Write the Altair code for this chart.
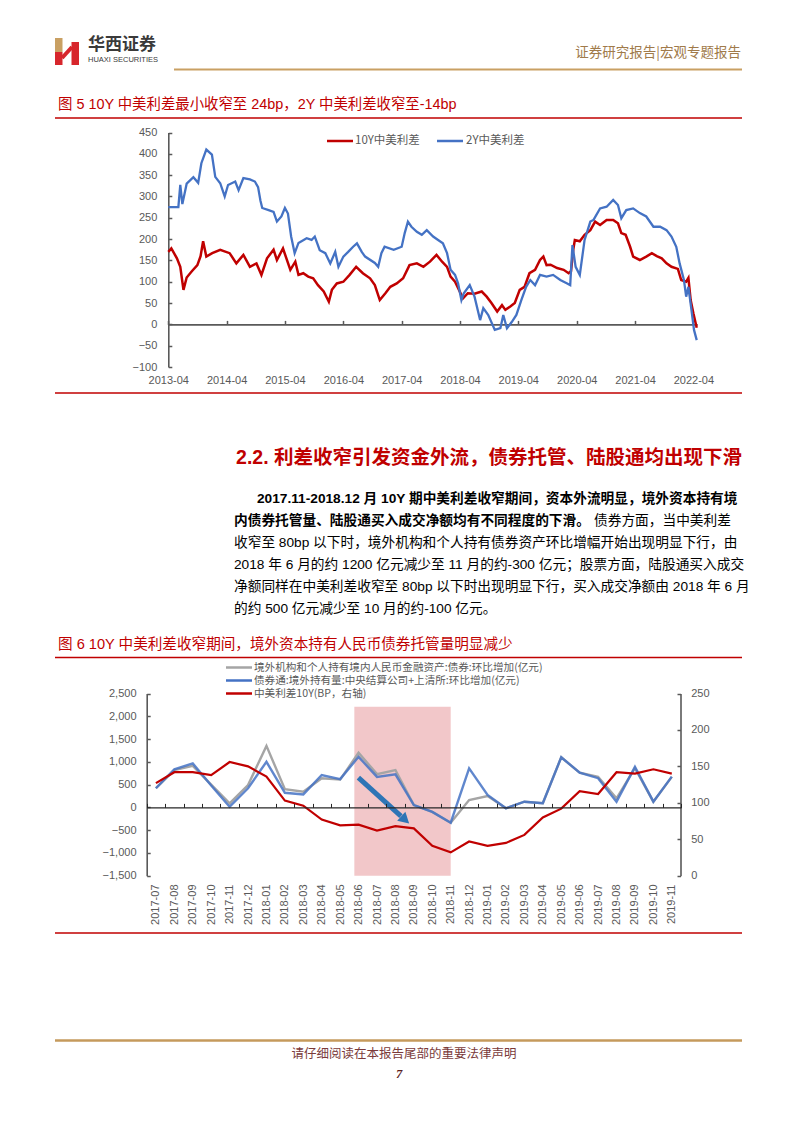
import json
import altair as alt
import pandas as pd

# ---------------- Figure 5: China-US spread (bp) ----------------
y10_dates = ["2013-04-01","2013-04-20","2013-05-25","2013-06-15","2013-07-05","2013-07-25","2013-08-25","2013-09-30","2013-10-20","2013-11-05",
             "2013-11-25","2014-01-01","2014-02-20","2014-04-20","2014-06-01","2014-07-15","2014-08-25","2014-10-05","2014-11-05","2014-12-10",
             "2015-01-20","2015-02-10","2015-03-20","2015-05-05","2015-06-05","2015-06-25","2015-07-25","2015-08-25","2015-09-25","2015-10-25",
             "2015-11-30","2016-01-01","2016-01-20","2016-02-20","2016-04-01","2016-05-10","2016-06-20","2016-08-01","2016-09-15","2016-10-15",
             "2016-11-15","2016-12-20","2017-01-20","2017-03-01","2017-04-10","2017-05-20","2017-07-05","2017-08-15","2017-09-25","2017-11-05",
             "2017-12-10","2018-01-10","2018-02-01","2018-03-01","2018-04-20","2018-05-20","2018-07-01","2018-08-15","2018-09-15","2018-10-15",
             "2018-11-20","2018-12-20","2019-01-10","2019-02-10","2019-03-10","2019-04-10","2019-05-10","2019-06-10","2019-07-15","2019-08-15",
             "2019-09-05","2019-09-25","2019-10-20","2019-11-30","2020-01-10","2020-02-10","2020-02-25","2020-03-10","2020-03-20","2020-04-20",
             "2020-05-20","2020-06-25","2020-07-25","2020-08-25","2020-10-05","2020-11-15","2020-12-15","2021-01-05","2021-02-01","2021-03-01",
             "2021-03-20","2021-05-01","2021-06-10","2021-07-15","2021-08-15","2021-09-15","2021-10-15","2021-11-15","2021-12-25","2022-01-15",
             "2022-02-15","2022-03-01","2022-03-15","2022-04-01","2022-04-22"]
y10_vals = [170,178,155,135,81,110,124,139,160,195,
            159,167,175,167,143,163,135,143,116,155,
            175,151,178,128,147,116,120,112,108,92,
            77,53,81,96,100,116,135,120,108,92,
            57,73,88,96,108,139,143,135,147,163,
            147,135,112,100,61,73,72,77,65,50,
            30,45,34,42,50,81,88,120,128,151,
            159,139,140,132,128,120,125,175,198,195,
            210,221,241,233,245,245,237,214,210,182,
            159,151,159,167,160,155,143,135,130,104,
            100,109,57,26,-8]

y2_dates = ["2013-04-01","2013-06-03","2013-06-15","2013-06-28","2013-07-25","2013-09-05","2013-10-05","2013-10-25","2013-11-25","2013-12-30",
            "2014-01-20","2014-02-20","2014-03-20","2014-04-10","2014-05-25","2014-06-15","2014-07-15","2014-08-25","2014-09-25","2014-10-15",
            "2014-10-30","2014-11-10","2014-12-20","2015-01-20","2015-02-10","2015-03-10","2015-04-01","2015-04-20","2015-05-10","2015-06-01",
            "2015-06-25","2015-08-15","2015-09-15","2015-10-05","2015-11-05","2015-12-10","2016-01-10","2016-02-10","2016-03-01","2016-04-01",
            "2016-05-01","2016-06-01","2016-06-25","2016-07-25","2016-08-15","2016-10-15","2016-11-05","2016-11-25","2016-12-15","2017-02-10",
            "2017-04-01","2017-04-20","2017-05-10","2017-06-01","2017-07-05","2017-08-05","2017-09-05","2017-10-15","2017-11-15","2017-12-15",
            "2018-01-10","2018-02-01","2018-03-01","2018-03-20","2018-04-10","2018-04-25","2018-06-01","2018-07-01","2018-08-05","2018-08-25",
            "2018-09-25","2018-11-05","2018-12-10","2018-12-28","2019-01-20","2019-02-20","2019-03-20","2019-04-20","2019-05-20","2019-06-15",
            "2019-07-15","2019-08-15","2019-09-25","2019-11-05","2019-12-20","2020-02-01","2020-02-20","2020-03-05","2020-03-25","2020-04-20",
            "2020-05-20","2020-06-25","2020-07-15","2020-08-25","2020-10-05","2020-11-15","2020-12-15","2021-01-05","2021-02-05","2021-03-20",
            "2021-05-01","2021-06-10","2021-07-25","2021-09-05","2021-10-15","2021-11-15","2021-12-15","2022-01-05","2022-02-01","2022-02-15",
            "2022-03-01","2022-03-20","2022-04-05","2022-04-22"]
y2_vals = [275,275,327,282,330,345,332,378,410,398,
           346,331,300,327,335,315,343,340,335,322,
           290,273,268,264,241,253,273,260,206,167,
           191,202,198,206,174,167,143,170,135,159,
           170,182,190,170,159,144,135,167,182,175,
           182,214,241,229,217,210,221,206,198,190,
           167,128,116,96,57,73,92,65,10,38,
           22,-13,-9,22,-9,6,22,57,88,104,
           92,116,112,116,104,96,92,186,135,116,
           198,241,245,272,276,292,280,249,268,272,
           261,253,229,229,221,206,182,143,104,65,
           88,34,-13,-37]
f5_ticks = list(range(2013, 2023))

# ---------------- Figure 6 ----------------
months = ["2017-07","2017-08","2017-09","2017-10","2017-11","2017-12","2018-01","2018-02","2018-03","2018-04",
          "2018-05","2018-06","2018-07","2018-08","2018-09","2018-10","2018-11","2018-12","2019-01","2019-02",
          "2019-03","2019-04","2019-05","2019-06","2019-07","2019-08","2019-09","2019-10","2019-11"]
foreign_bonds = [420, 820, 910, 500, 90, 490, 1350, 400, 345, 640,
                 610, 1200, 730, 820, 50, -100, -336, 160, 250, -20,
                 125, 90, 1100, 760, 670, 200, 860, 125, 670]
bond_connect = [420, 835, 965, 480, 15, 420, 1000, 320, 285, 710,
                620, 1110, 670, 725, 50, -100, -336, 855, 275, -20,
                125, 90, 1100, 760, 640, 125, 890, 125, 675]
spread10y = [127, 142, 142, 138, 156, 150, 136, 103, 96, 77,
             69, 70, 62, 68, 65, 41, 32, 47, 41, 45,
             56, 80, 92, 116, 112, 142, 140, 146, 140]
shade_span = [10.77, 16.0]       # category-index span of the shaded period
shade_vals = [-1500, 2210]
arrow_idx = [10.99, 13.3]
arrow_vals = [652, -190]
arrow_head_idx = [13.46]
arrow_head_vals = [-248]

# ---------------- styling ----------------
RED = "#C00000"
BLUE = "#4472C4"
GRAY = "#A5A5A5"
AX = "#595959"
GOLD = "#C9A063"
CJK = "Noto Sans CJK SC"
MIX = "Liberation Sans, Noto Sans CJK SC"

blank = pd.DataFrame({"k": [0]})


def txt(s, x, y, size, color, weight="normal", align="left", font=MIX, style="normal"):
    return alt.Chart(blank).mark_text(
        text=s, fontSize=size, color=color, fontWeight=weight, align=align,
        baseline="middle", font=font, fontStyle=style
    ).encode(x=alt.value(x), y=alt.value(y))


def hline(x1, x2, y, color, width):
    return alt.Chart(blank).mark_rule(color=color, strokeWidth=width).encode(
        x=alt.value(x1), x2=alt.value(x2), y=alt.value(y))


def seg(x1, y1, x2, y2, color, width):
    return alt.Chart(blank).mark_rule(color=color, strokeWidth=width).encode(
        x=alt.value(x1), x2=alt.value(x2), y=alt.value(y1), y2=alt.value(y2))


def box(x1, x2, y1, y2, color):
    return alt.Chart(blank).mark_rect(color=color).encode(
        x=alt.value(x1), x2=alt.value(x2), y=alt.value(y1), y2=alt.value(y2))


layers = []

# ---------- page header ----------
layers += [
    box(55, 62.5, 38, 52, GOLD),
    box(55, 62.5, 52, 65, "#D7262C"),
    box(71.5, 79, 42, 65, "#D7262C"),
    seg(62, 58, 72, 47, "#D7262C", 4),
    txt("华西证券", 88, 45, 17, "#3A3A3A", weight="bold", font=CJK),
    txt("HUAXI SECURITIES", 88, 60, 7.5, "#3A3A3A", font="Liberation Sans"),
    txt("证券研究报告|宏观专题报告", 741, 53, 13.5, "#A07A4A", align="right", font=CJK),
    hline(174, 742, 69.5, GOLD, 2),
]

# ---------- figure 5 ----------
layers += [
    txt("图 5  10Y 中美利差最小收窄至 24bp，2Y 中美利差收窄至-14bp", 58, 105, 14.4, RED),
    hline(55, 742, 118, RED, 1.5),
    hline(55, 742, 393, RED, 1.5),
    hline(327, 353, 141, RED, 2.5),
    txt("10Y中美利差", 355, 141, 11.5, AX, font=CJK),
    hline(437, 463, 141, BLUE, 2.5),
    txt("2Y中美利差", 466, 141, 11.5, AX, font=CJK),
]

df10 = pd.DataFrame({"date": [d + "T00:00:00" for d in y10_dates], "v": y10_vals})
df2 = pd.DataFrame({"date": [d + "T00:00:00" for d in y2_dates], "v": y2_vals})

sx1 = alt.Scale(domain=[alt.DateTime(year=2013, month=4, date=1), alt.DateTime(year=2022, month=4, date=25)],
                range=[168.3, 697.2], nice=False)
sy1 = alt.Scale(domain=[-100, 450], range=[367.0, 132.5], nice=False, zero=False)
tick_dates = [alt.DateTime(year=y, month=4, date=1) for y in f5_ticks]
yvals1 = list(range(-100, 451, 50))

layers += [
    alt.Chart(df10).mark_line(color=RED, strokeWidth=2.5).encode(
        x=alt.X("date:T", scale=sx1, axis=None), y=alt.Y("v:Q", scale=sy1, axis=None)),
    alt.Chart(df2).mark_line(color=BLUE, strokeWidth=2.3).encode(
        x=alt.X("date:T", scale=sx1, axis=None), y=alt.Y("v:Q", scale=sy1, axis=None)),
    # zero line with upward ticks + left axis labels
    alt.Chart(df2).mark_point(opacity=0).encode(
        x=alt.X("date:T", scale=sx1, title=None, axis=alt.Axis(
            orient="top", offset=-324.4, values=tick_dates, labels=False, ticks=True, tickSize=4,
            tickColor=AX, tickWidth=1.5, domain=True, domainColor=AX, domainWidth=1.6, grid=False)),
        y=alt.Y("v:Q", scale=sy1, title=None, axis=alt.Axis(
            orient="left", offset=-168.3, values=yvals1, labelFont="Liberation Sans", labelFontSize=11,
            labelColor=AX, labelPadding=11.5, ticks=False, tickSize=0, domain=True, domainColor=AX,
            domainWidth=1.6, grid=False, labelFlush=False))),
    # bottom date labels + inside y ticks
    alt.Chart(df2).mark_point(opacity=0).encode(
        x=alt.X("date:T", scale=sx1, title=None, axis=alt.Axis(
            orient="bottom", offset=-759, values=tick_dates, format="%Y-%m", labelFont="Liberation Sans",
            labelFontSize=11, labelColor=AX, labelPadding=0, ticks=False, tickSize=0, domain=False,
            grid=False, labelFlush=False, labelOverlap=False)),
        y=alt.Y("v:Q", scale=sy1, title=None, axis=alt.Axis(
            orient="right", offset=168.3 - 802, values=yvals1, labels=False, ticks=True, tickSize=3.5,
            tickColor=AX, tickWidth=1.5, domain=False, grid=False))),
]

# ---------- section text ----------
P = 13.7
layers += [
    txt("2.2. 利差收窄引发资金外流，债券托管、陆股通均出现下滑", 742, 458, 19.5, RED, weight="bold", align="right"),
    txt("2017.11-2018.12 月 10Y 期中美利差收窄期间，资本外流明显，境外资本持有境", 257, 499, P, "#000000", weight="bold"),
    txt("内债券托管量、陆股通买入成交净额均有不同程度的下滑。", 234, 521, P, "#000000", weight="bold"),
    txt("债券方面，当中美利差", 594, 521, P, "#000000"),
    txt("收窄至 80bp 以下时，境外机构和个人持有债券资产环比增幅开始出现明显下行，由", 234, 543, P, "#000000"),
    txt("2018 年 6 月的约 1200 亿元减少至 11 月的约-300 亿元；股票方面，陆股通买入成交", 234, 565, P, "#000000"),
    txt("净额同样在中美利差收窄至 80bp 以下时出现明显下行，买入成交净额由 2018 年 6 月", 234, 587, P, "#000000"),
    txt("的约 500 亿元减少至 10 月的约-100 亿元。", 234, 609, P, "#000000"),
]

# ---------- figure 6 ----------
LG = 10.6
layers += [
    txt("图 6  10Y 中美利差收窄期间，境外资本持有人民币债券托管量明显减少", 58, 645, 14.6, RED),
    hline(55, 742, 657.5, RED, 1.5),
    hline(55, 742, 933, RED, 1.5),
    hline(226, 252, 667.5, GRAY, 2.5),
    txt("境外机构和个人持有境内人民币金融资产:债券:环比增加(亿元)", 254, 667.5, LG, AX, font=CJK),
    hline(226, 252, 680.5, BLUE, 2.5),
    txt("债券通:境外持有量:中央结算公司+上清所:环比增加(亿元)", 254, 680.5, LG, AX, font=CJK),
    hline(226, 252, 693.5, RED, 2.5),
    txt("中美利差10Y(BP，右轴)", 254, 693.5, LG, AX, font=CJK),
]

df6 = pd.DataFrame({"i": list(range(len(months))), "gray": foreign_bonds, "blue": bond_connect, "red": spread10y})
sx2 = alt.Scale(domain=[-0.5, 28.5], range=[146.7, 681.0], nice=False, zero=False)
syL = alt.Scale(domain=[-1500, 2500], range=[875.7, 693.5], nice=False, zero=False)
syR = alt.Scale(domain=[0, 250], range=[875.7, 693.5], nice=False, zero=False)
XI = lambda f="i": alt.X(f + ":Q", scale=sx2, axis=None)

shade = pd.DataFrame({"a": [shade_span[0]], "b": [shade_span[1]], "lo": [shade_vals[0]], "hi": [shade_vals[1]]})
arrow = pd.DataFrame({"i": arrow_idx, "v": arrow_vals})
head = pd.DataFrame({"i": arrow_head_idx, "v": arrow_head_vals})
label_expr = json.dumps(months) + "[datum.value]"

layers += [
    alt.Chart(shade).mark_rect(color="#F2C7C9").encode(
        x=XI("a"), x2="b", y=alt.Y("lo:Q", scale=syL, axis=None), y2="hi"),
    alt.Chart(df6).mark_line(color=GRAY, strokeWidth=2.4).encode(
        x=XI(), y=alt.Y("gray:Q", scale=syL, axis=None)),
    alt.Chart(df6).mark_line(color=BLUE, strokeWidth=2.4, opacity=0.85).encode(
        x=XI(), y=alt.Y("blue:Q", scale=syL, axis=None)),
    alt.Chart(df6).mark_line(color=RED, strokeWidth=2.2).encode(
        x=XI(), y=alt.Y("red:Q", scale=syR, axis=None)),
    alt.Chart(arrow).mark_line(color="#2E75B6", strokeWidth=5).encode(
        x=XI(), y=alt.Y("v:Q", scale=syL, axis=None)),
    alt.Chart(head).mark_point(shape="triangle", angle=132, size=150, filled=True, color="#2E75B6", opacity=1).encode(
        x=XI(), y=alt.Y("v:Q", scale=syL, axis=None)),
    # zero line with ticks + left axis
    alt.Chart(df6).mark_point(opacity=0).encode(
        x=alt.X("i:Q", scale=sx2, title=None, axis=alt.Axis(
            orient="top", offset=-807.4, values=[k - 0.5 for k in range(30)], labels=False, ticks=True,
            tickSize=4, tickColor="#262626", tickWidth=1, domain=True, domainColor="#262626",
            domainWidth=1.3, grid=False, zindex=1)),
        y=alt.Y("gray:Q", scale=syL, title=None, axis=alt.Axis(
            orient="left", offset=-146.7, values=list(range(-1500, 2501, 500)), labelFont="Liberation Sans",
            labelFontSize=11, labelColor=AX, labelPadding=10.7, ticks=False, tickSize=0, domain=True,
            domainColor=AX, domainWidth=1.6, grid=False, labelFlush=False))),
    # month labels + inside ticks on left axis
    alt.Chart(df6).mark_point(opacity=0).encode(
        x=alt.X("i:Q", scale=sx2, title=None, axis=alt.Axis(
            orient="bottom", offset=884 - 1133, values=list(range(len(months))), labelExpr=label_expr,
            labelAngle=270, labelFont="Liberation Sans", labelFontSize=11, labelColor=AX, labelPadding=0,
            ticks=False, tickSize=0, domain=False, grid=False, labelFlush=False, labelOverlap=False)),
        y=alt.Y("gray:Q", scale=syL, title=None, axis=alt.Axis(
            orient="right", offset=146.7 - 802, values=list(range(-1500, 2501, 500)), labels=False,
            ticks=True, tickSize=3.5, tickColor=AX, tickWidth=1.5, domain=False, grid=False))),
    # right axis
    alt.Chart(df6).mark_point(opacity=0).encode(
        y=alt.Y("red:Q", scale=syR, title=None, axis=alt.Axis(
            orient="right", offset=680.5 - 802, values=list(range(0, 251, 50)), labelFont="Liberation Sans",
            labelFontSize=11, labelColor=AX, labelPadding=10.2, ticks=False, tickSize=0, domain=True,
            domainColor=AX, domainWidth=1.6, grid=False, labelFlush=False))),
    alt.Chart(df6).mark_point(opacity=0).encode(
        y=alt.Y("red:Q", scale=syR, title=None, axis=alt.Axis(
            orient="left", offset=-680.5, values=list(range(0, 251, 50)), labels=False, ticks=True,
            tickSize=3.5, tickColor=AX, tickWidth=1.5, domain=False, grid=False))),
]

# ---------- footer ----------
layers += [
    hline(55, 742, 1040.5, "#C59A5C", 2.5),
    txt("请仔细阅读在本报告尾部的重要法律声明", 404, 1054, 12.5, "#7A3A3A", align="center", font=CJK),
    txt("7", 399, 1074, 12.5, "#5A1E1E", weight="bold", style="italic", align="center", font="Liberation Serif"),
]

chart = alt.layer(*layers).properties(
    width=802, height=1133, autosize="none", padding=0, background="white"
).resolve_scale(x="independent", y="independent").resolve_axis(
    x="independent", y="independent"
).configure_view(stroke=None)

chart.save("out.html", embed_options={"renderer": "svg", "actions": False})
